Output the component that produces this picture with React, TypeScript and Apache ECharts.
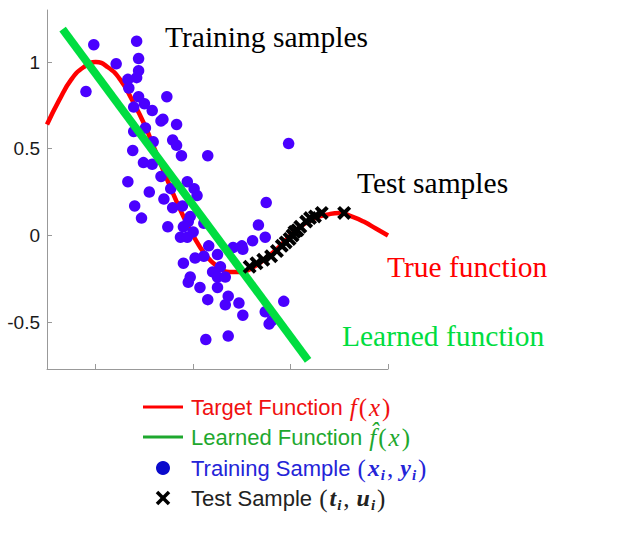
import React, { useEffect, useRef } from "react";
import * as echarts from "echarts";

// Axis ticks
const xTicks = [0, 1, 2, 3];
const yTicks = [-0.5, 0, 0.5, 1];

// True (target) function
const trueX = [-0.5, -0.375, -0.25, -0.125, 0, 0.125, 0.25, 0.375, 0.5, 0.625, 0.75, 0.875, 1, 1.125, 1.25, 1.375, 1.5, 1.625, 1.75, 1.875, 2, 2.125, 2.25, 2.375, 2.5, 2.625, 2.75, 2.875, 3];
const trueY = [0.64, 0.78, 0.9, 0.97, 1.0, 0.97, 0.9, 0.78, 0.64, 0.47, 0.3, 0.14, 0.0, -0.11, -0.18, -0.21, -0.21, -0.18, -0.13, -0.07, 0.0, 0.06, 0.1, 0.12, 0.13, 0.11, 0.08, 0.04, 0.0];

// Learned (linear) function
const learnedX = [-0.34, 2.18];
const learnedY = [1.19, -0.72];

// Training samples (blue dots)
const trainX = [-0.02, 0.42, 0.44, 0.21, 0.44, 0.33, 0.42, 0.34, -0.1, 0.44, 0.73, 0.39, 0.5, 0.58, 0.69, 0.67, 0.83, 0.51, 0.39, 0.79, 0.59, 0.38, 0.49, 0.58, 0.83, 0.88, 1.15, 0.33, 0.55, 0.67, 0.7, 0.77, 0.79, 0.89, 0.94, 0.4, 0.47, 0.74, 0.9, 0.87, 0.94, 1.98, 1.01, 1.04, 1.75, 0.97, 0.95, 1.0, 1.11, 1.67, 1.74, 1.61, 1.16, 1.5, 1.41, 0.9, 1.02, 1.11, 1.25, 1.2, 1.28, 0.97, 1.25, 1.33, 0.95, 1.07, 1.25, 1.36, 1.15, 1.33, 1.47, 1.51, 1.74, 1.93, 1.78, 1.13, 1.36, 1.51, 1.81];
const trainY = [1.1, 1.12, 1.02, 0.99, 0.95, 0.9, 0.91, 0.85, 0.83, 0.8, 0.8, 0.74, 0.76, 0.72, 0.67, 0.66, 0.64, 0.62, 0.6, 0.55, 0.54, 0.49, 0.42, 0.41, 0.52, 0.46, 0.46, 0.31, 0.25, 0.34, 0.21, 0.27, 0.16, 0.17, 0.31, 0.17, 0.1, 0.05, 0.05, -0.01, -0.01, 0.53, 0.27, 0.23, 0.19, 0.11, 0.08, 0.02, 0.07, 0.06, -0.01, -0.03, -0.06, -0.06, -0.07, -0.16, -0.13, -0.12, -0.11, -0.21, -0.18, -0.24, -0.24, -0.24, -0.27, -0.3, -0.3, -0.35, -0.37, -0.4, -0.39, -0.46, -0.44, -0.38, -0.51, -0.6, -0.58, -0.08, -0.49];

// Test samples (black crosses)
const testX = [1.58, 1.65, 1.72, 1.8, 1.86, 1.91, 1.95, 1.99, 2.02, 2.04, 2.07, 2.1, 2.16, 2.2, 2.25, 2.32, 2.55];
const testY = [-0.18, -0.16, -0.14, -0.12, -0.09, -0.06, -0.04, -0.02, 0.0, 0.02, 0.03, 0.05, 0.08, 0.1, 0.11, 0.13, 0.13];

const CROSS = "path://M2,0 L5,3 L8,0 L10,2 L7,5 L10,8 L8,10 L5,7 L2,10 L0,8 L3,5 L0,2 Z";

const SANS = "Liberation Sans, Arial, sans-serif";
const SERIF = "Liberation Serif, Times New Roman, serif";

function legendRich(color: string) {
  return {
    a: { fontFamily: SANS, fontSize: 22, fill: color, lineHeight: 28, verticalAlign: "middle" },
    m: { fontFamily: SERIF, fontStyle: "italic", fontSize: 25, fill: color, lineHeight: 28, verticalAlign: "middle", padding: [0, 1, 0, 1] },
    b: { fontFamily: SERIF, fontStyle: "italic", fontWeight: "bold", fontSize: 24, fill: color, lineHeight: 28, verticalAlign: "middle", padding: [0, 0, 0, 1] },
    p: { fontFamily: SERIF, fontSize: 25, fill: color, lineHeight: 28, verticalAlign: "middle", padding: [0, 1, 0, 1] },
    c: { fontFamily: SERIF, fontSize: 25, fill: color, lineHeight: 28, verticalAlign: "middle", padding: [0, 6, 0, 1] },
    s: { fontFamily: SERIF, fontStyle: "italic", fontWeight: "bold", fontSize: 15, fill: color, lineHeight: 14, verticalAlign: "bottom", padding: [0, 1, 0, 1] },
  };
}

const serifText = (text: string, x: number, y: number, fill: string) => ({
  type: "text",
  x,
  y,
  z: 10,
  style: { text, font: `29.5px ${SERIF}`, fill, textAlign: "left", textVerticalAlign: "middle", align: "left", verticalAlign: "middle" },
});

export default function App() {
  const ref = useRef<HTMLDivElement>(null);
  useEffect(() => {
    if (!ref.current) return;
    const chart = echarts.init(ref.current, undefined, { renderer: "svg" });
    const option: any = {
      animation: false,
      backgroundColor: "#ffffff",
      grid: { left: 47, top: 10, width: 341, height: 359, containLabel: false },
      xAxis: {
        type: "value",
        min: -0.5,
        max: 3,
        axisLine: { show: true, onZero: false, lineStyle: { color: "#999", width: 1 } },
        axisTick: { show: true, inside: true, length: 5, customValues: xTicks, lineStyle: { color: "#999" } },
        axisLabel: { show: false },
        splitLine: { show: false },
      },
      yAxis: {
        type: "value",
        min: -0.77,
        max: 1.3,
        axisLine: { show: true, onZero: false, lineStyle: { color: "#999", width: 1 } },
        axisTick: { show: true, inside: true, length: 5, customValues: yTicks, lineStyle: { color: "#999" } },
        axisLabel: {
          show: true,
          customValues: yTicks,
          fontSize: 19,
          fontFamily: SANS,
          color: "#1a1a1a",
          margin: 7,
          formatter: (v: number) => String(v),
        },
        splitLine: { show: false },
      },
      series: [
        {
          type: "line",
          name: "Target Function",
          data: trueX.map((x, i) => [x, trueY[i]]),
          smooth: true,
          showSymbol: false,
          lineStyle: { color: "#ff0000", width: 4.5 },
          z: 2,
        },
        {
          type: "scatter",
          name: "Training Sample",
          data: trainX.map((x, i) => [x, trainY[i]]),
          symbol: "circle",
          symbolSize: 11.5,
          itemStyle: { color: "#4a00ff", opacity: 1 },
          z: 3,
        },
        {
          type: "line",
          name: "Learned Function",
          data: learnedX.map((x, i) => [x, learnedY[i]]),
          showSymbol: false,
          lineStyle: { color: "#00dd40", width: 8, cap: "butt" },
          z: 4,
        },
        {
          type: "scatter",
          name: "Test Sample",
          data: testX.map((x, i) => [x, testY[i]]),
          symbol: CROSS,
          symbolSize: 14,
          itemStyle: { color: "#000000", opacity: 1 },
          z: 5,
        },
      ],
      graphic: [
        serifText("Training samples", 165, 37, "#000"),
        serifText("Test samples", 357, 183, "#000"),
        serifText("True function", 387, 267, "#ff0000"),
        serifText("Learned function", 342, 336, "#00dd40"),

        // Legend row 1
        { type: "line", z: 10, shape: { x1: 143, y1: 407, x2: 183, y2: 407 }, style: { stroke: "#ff0000", lineWidth: 3 } },
        { type: "text", x: 191, y: 407, z: 10, style: { text: "{a|Target Function }{m|f}{p|(}{m|x}{p|)}", rich: legendRich("#f01010"), textAlign: "left", textVerticalAlign: "middle", align: "left", verticalAlign: "middle" } },
        // Legend row 2
        { type: "line", z: 10, shape: { x1: 143, y1: 437, x2: 183, y2: 437 }, style: { stroke: "#1ea82e", lineWidth: 3 } },
        { type: "text", x: 191, y: 437, z: 10, style: { text: "{a|Learned Function }{m|f\u0302}{p|(}{m|x}{p|)}", rich: legendRich("#1ea82e"), textAlign: "left", textVerticalAlign: "middle", align: "left", verticalAlign: "middle" } },
        // Legend row 3
        { type: "circle", z: 10, shape: { cx: 163, cy: 468, r: 7 }, style: { fill: "#0a0acc" } },
        { type: "text", x: 191, y: 468, z: 10, style: { text: "{a|Training Sample }{p|(}{b|x}{s|i}{c|,}{b|y}{s|i}{p|)}", rich: legendRich("#2424d8"), textAlign: "left", textVerticalAlign: "middle", align: "left", verticalAlign: "middle" } },
        // Legend row 4
        { type: "line", z: 10, shape: { x1: 157, y1: 492, x2: 169, y2: 504 }, style: { stroke: "#000", lineWidth: 3.5 } },
        { type: "line", z: 10, shape: { x1: 169, y1: 492, x2: 157, y2: 504 }, style: { stroke: "#000", lineWidth: 3.5 } },
        { type: "text", x: 191, y: 498, z: 10, style: { text: "{a|Test Sample }{p|(}{b|t}{s|i}{c|,}{b|u}{s|i}{p|)}", rich: legendRich("#222222"), textAlign: "left", textVerticalAlign: "middle", align: "left", verticalAlign: "middle" } },
      ],
    };
    chart.setOption(option);
    return () => chart.dispose();
  }, []);
  return (
    <div
      ref={ref}
      style={{ position: "fixed", left: 0, top: 0, width: 631, height: 537, background: "#fff" }}
    />
  );
}
